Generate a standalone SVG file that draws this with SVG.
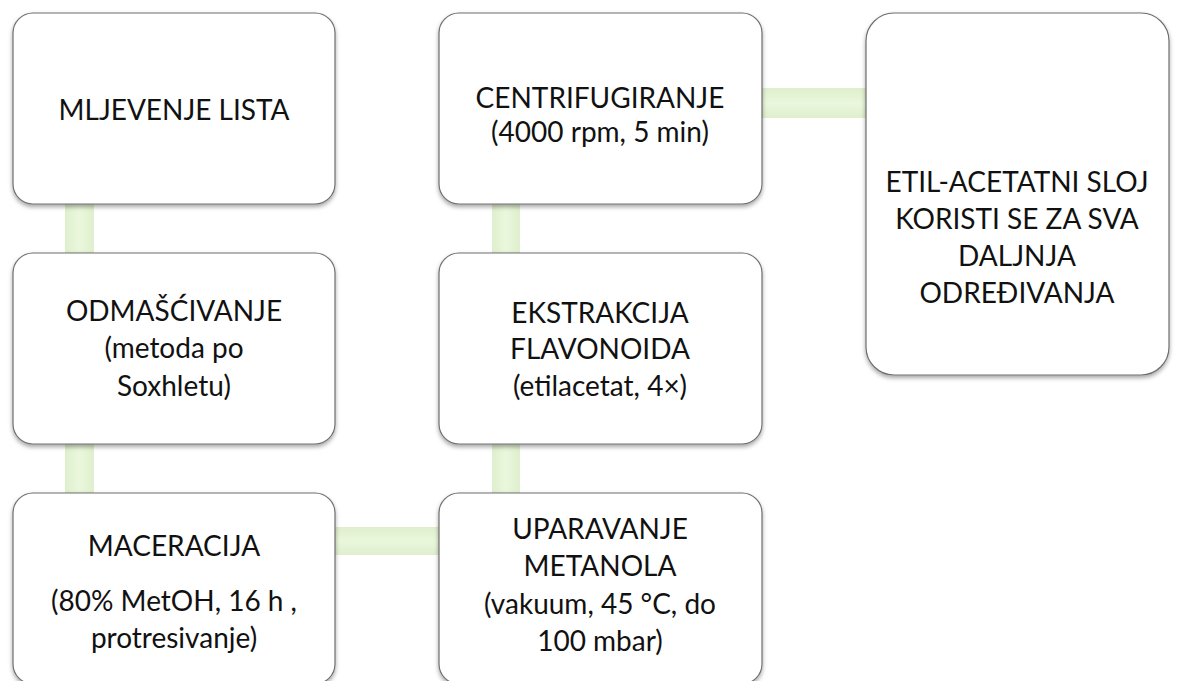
<svg xmlns="http://www.w3.org/2000/svg" width="1178" height="681" viewBox="0 0 1178 681">
<defs>
<style>
.box{fill:#ffffff;stroke:#6e6e6e;stroke-width:1.2;filter:url(#sh)}
.t{font-family:Lato,"Open Sans","Liberation Sans",sans-serif;font-size:28px;fill:#111;text-anchor:middle}
</style>
<filter id="sh" x="-10%" y="-10%" width="120%" height="125%">
<feDropShadow dx="0" dy="2.5" stdDeviation="2" flood-color="#000" flood-opacity="0.35"/>
</filter>
<linearGradient id="gv" x1="0" y1="0" x2="1" y2="0">
<stop offset="0" stop-color="#dfefcd"/><stop offset="0.5" stop-color="#eaf7dc"/><stop offset="1" stop-color="#dfefcd"/>
</linearGradient>
<linearGradient id="gh" x1="0" y1="0" x2="0" y2="1">
<stop offset="0" stop-color="#dfefcd"/><stop offset="0.5" stop-color="#eaf7dc"/><stop offset="1" stop-color="#dfefcd"/>
</linearGradient>
</defs>
<g id="connectors">
<rect x="65" y="200" width="29" height="57" fill="url(#gv)"/>
<rect x="65" y="440" width="29" height="57" fill="url(#gv)"/>
<rect x="330" y="527" width="113" height="28" fill="url(#gh)"/>
<rect x="492" y="440" width="28" height="57" fill="url(#gv)"/>
<rect x="492" y="200" width="28" height="57" fill="url(#gv)"/>
<rect x="758" y="88" width="112" height="30" fill="url(#gh)"/>
</g>
<g id="n1"><rect class="box" x="13" y="13" width="322" height="191" rx="20"/>
<text class="t" x="174" y="120">MLJEVENJE LISTA</text></g>
<g id="n2"><rect class="box" x="13" y="253" width="322" height="191" rx="20"/>
<text class="t" x="174" y="321">ODMAŠĆIVANJE</text>
<text class="t" x="174" y="358">(metoda po</text>
<text class="t" x="174" y="396">Soxhletu)</text></g>
<g id="n3"><rect class="box" x="13" y="493" width="322" height="191" rx="20"/>
<text class="t" x="174" y="556">MACERACIJA</text>
<text class="t" x="174" y="611">(80% MetOH, 16 h ,</text>
<text class="t" x="174" y="648">protresivanje)</text></g>
<g id="n4"><rect class="box" x="439" y="493" width="323" height="191" rx="20"/>
<text class="t" x="600" y="539">UPARAVANJE</text>
<text class="t" x="600" y="576">METANOLA</text>
<text class="t" x="600" y="614">(vakuum, 45 °C, do</text>
<text class="t" x="600" y="651">100 mbar)</text></g>
<g id="n5"><rect class="box" x="439" y="253" width="323" height="191" rx="20"/>
<text class="t" x="600" y="323">EKSTRAKCIJA</text>
<text class="t" x="600" y="359">FLAVONOIDA</text>
<text class="t" x="600" y="396">(etilacetat, 4×)</text></g>
<g id="n6"><rect class="box" x="439" y="13" width="323" height="191" rx="20"/>
<text class="t" x="600" y="108">CENTRIFUGIRANJE</text>
<text class="t" x="600" y="142">(4000 rpm, 5 min)</text></g>
<g id="n7"><rect class="box" x="866" y="13" width="303" height="362" rx="28"/>
<text class="t" x="1017" y="192">ETIL-ACETATNI SLOJ</text>
<text class="t" x="1017" y="229">KORISTI SE ZA SVA</text>
<text class="t" x="1017" y="266">DALJNJA</text>
<text class="t" x="1017" y="303">ODREĐIVANJA</text></g>
</svg>
